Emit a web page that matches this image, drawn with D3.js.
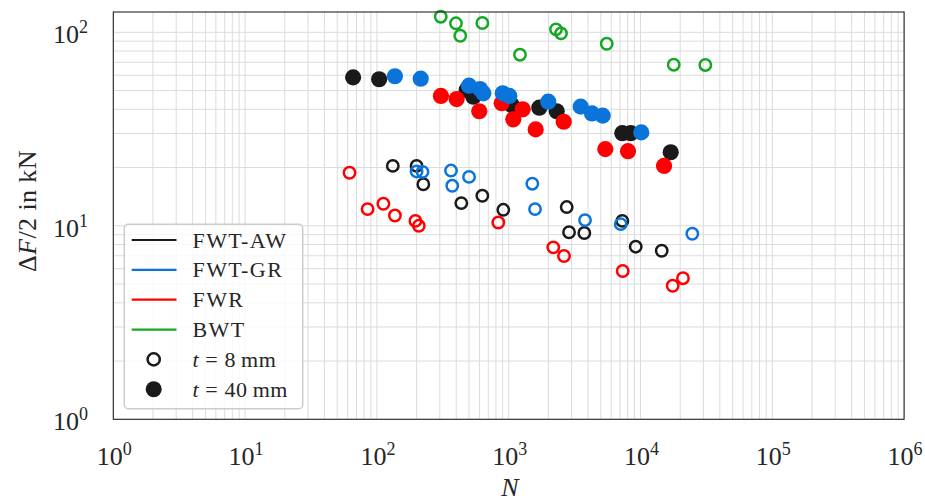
<!DOCTYPE html>
<html>
<head>
<meta charset="utf-8">
<script src="https://cdn.jsdelivr.net/npm/d3@7"></script>
<style>
  body { margin: 0; background: #fff; }
  text { font-family: "Liberation Serif", "DejaVu Serif", serif; fill: #262626; }
</style>
</head>
<body>
<svg id="chart" width="925" height="501"></svg>
<script>
// Series (weld detail) names and colours
const seriesNames  = ["FWT-AW", "FWT-GR", "FWR", "BWT"];
const seriesColors = ["#1a1a1a", "#0a74da", "#ff0000", "#14a823"];

// Axis ticks (decades)
const xTickExps = [0, 1, 2, 3, 4, 5, 6];
const yTickExps = [0, 1, 2];

// FWT-AW
const awThinN  = [132, 200, 225, 437, 631, 910, 2755, 2870, 3748, 7278, 9200, 14490];
const awThinF  = [20.4, 20.4, 16.4, 13.1, 14.3, 12.1, 12.5, 9.26, 9.18, 10.6, 7.80, 7.43];
const awThickN = [66, 104, 480, 539, 1054, 1707, 2313, 7278, 8430, 16950];
const awThickF = [58.5, 57.2, 50.3, 46.5, 42.1, 40.8, 39.1, 30.1, 30.1, 24.0];

// FWT-GR
const grThinN  = [200, 222, 365, 373, 500, 1511, 1584, 3794, 7077, 24720];
const grThinF  = [19.1, 19.0, 19.3, 16.1, 17.9, 16.5, 12.2, 10.7, 10.2, 9.1];
const grThickN = [137, 215, 500, 606, 642, 901, 1011, 1996, 3518, 4286, 5165, 10140];
const grThickF = [59.3, 57.6, 53.0, 50.9, 48.4, 48.4, 46.9, 43.8, 41.3, 38.1, 37.1, 30.4];

// FWR
const frThinN  = [62, 85, 112, 137, 196, 208, 834, 2179, 2628, 7330, 17550, 21000];
const frThinF  = [18.8, 12.2, 13.0, 11.3, 10.6, 10.0, 10.4, 7.74, 6.98, 5.84, 4.90, 5.36];
const frThickN = [306, 403, 598, 885, 1084, 1277, 1602, 2614, 5408, 8040, 15080];
const frThickF = [46.9, 45.2, 39.1, 43.0, 35.5, 40.0, 31.5, 34.5, 24.9, 24.3, 20.4];

// BWT
const bwThinN  = [305, 398, 429, 631, 1218, 2285, 2494, 5543, 17870, 31040];
const bwThinF  = [120.4, 111.3, 96.0, 111.7, 76.6, 103.6, 98.8, 87.3, 68.0, 67.8];

const svg = d3.select("#chart");
const plot = { left: 113.3, right: 904.1, top: 12, bottom: 419.3 };

const x = d3.scaleLog().domain([1, 1e6]).range([plot.left, plot.right]);
const y = d3.scaleLog().domain([1, Math.pow(10, 2.105)]).range([plot.bottom, plot.top]);

// Grid: minor and major lines for every decade
const gridG = svg.append("g").attr("stroke", "#dcdcdc").attr("stroke-width", 1);
const xGrid = [];
for (let e = 0; e < 6; e++) for (let m = 1; m <= 9; m++) xGrid.push(m * Math.pow(10, e));
xGrid.push(1e6);
const yGrid = [];
for (let e = 0; e < 3; e++) for (let m = 1; m <= 9; m++) {
  const v = m * Math.pow(10, e);
  if (v <= y.domain()[1]) yGrid.push(v);
}
gridG.selectAll("line.vx").data(xGrid).join("line")
  .attr("x1", d => x(d)).attr("x2", d => x(d))
  .attr("y1", plot.top).attr("y2", plot.bottom);
gridG.selectAll("line.hy").data(yGrid).join("line")
  .attr("x1", plot.left).attr("x2", plot.right)
  .attr("y1", d => y(d)).attr("y2", d => y(d));

// Data groups, drawn in layer order
const zip = (n, f) => n.map((v, i) => ({ n: v, f: f[i] }));
const groups = [
  { s: 0, filled: false, pts: zip(awThinN, awThinF) },
  { s: 2, filled: false, pts: zip(frThinN, frThinF) },
  { s: 1, filled: false, pts: zip(grThinN, grThinF) },
  { s: 3, filled: false, pts: zip(bwThinN, bwThinF) },
  { s: 0, filled: true,  pts: zip(awThickN, awThickF) },
  { s: 2, filled: true,  pts: zip(frThickN, frThickF) },
  { s: 1, filled: true,  pts: zip(grThickN, grThickF) }
];

const marks = svg.append("g");
groups.forEach(g => {
  const c = seriesColors[g.s];
  marks.append("g").selectAll("circle").data(g.pts).join("circle")
    .attr("cx", d => x(d.n)).attr("cy", d => y(d.f))
    .attr("r", g.filled ? 8.1 : 5.7)
    .attr("fill", g.filled ? c : "none")
    .attr("stroke", g.filled ? "none" : c)
    .attr("stroke-width", g.filled ? 0 : 2.5);
});

// Frame
svg.append("rect")
  .attr("x", plot.left).attr("y", plot.top)
  .attr("width", plot.right - plot.left).attr("height", plot.bottom - plot.top)
  .attr("fill", "none").attr("stroke", "#262626").attr("stroke-width", 1.1);

// Tick labels as powers of ten
function powerLabel(sel, exp) {
  sel.append("tspan").text("10");
  sel.append("tspan").attr("dy", -10).attr("font-size", 18).text(exp);
}
const xAxis = d3.axisBottom(x).tickValues(xTickExps.map(e => Math.pow(10, e))).tickSize(0).tickFormat("");
svg.append("g").attr("transform", `translate(0,${plot.bottom})`).call(xAxis)
  .call(g => g.select(".domain").remove());
xTickExps.forEach(e => {
  const t = svg.append("text")
    .attr("x", x(Math.pow(10, e)) + 1).attr("y", 465)
    .attr("text-anchor", "middle").attr("font-size", 26);
  powerLabel(t, e);
});
const yAxis = d3.axisLeft(y).tickValues(yTickExps.map(e => Math.pow(10, e))).tickSize(0).tickFormat("");
svg.append("g").attr("transform", `translate(${plot.left},0)`).call(yAxis)
  .call(g => g.select(".domain").remove());
yTickExps.forEach(e => {
  const t = svg.append("text")
    .attr("x", 88).attr("y", y(Math.pow(10, e)) + 11)
    .attr("text-anchor", "end").attr("font-size", 26);
  powerLabel(t, e);
});

// Axis titles
svg.append("text").attr("x", 510).attr("y", 496)
  .attr("text-anchor", "middle").attr("font-size", 26)
  .attr("font-style", "italic").text("N");

const yt = svg.append("text")
  .attr("transform", "translate(36,211) rotate(-90)")
  .attr("text-anchor", "middle").attr("font-size", 26).attr("letter-spacing", 0.4);
yt.append("tspan").text("\u0394");
yt.append("tspan").attr("font-style", "italic").text("F");
yt.append("tspan").text("/2 in kN");

// Legend
const leg = svg.append("g");
leg.append("rect")
  .attr("x", 124.3).attr("y", 224.3).attr("width", 178.4).attr("height", 184.4)
  .attr("rx", 4).attr("fill", "#fff").attr("fill-opacity", 0.8)
  .attr("stroke", "#cccccc").attr("stroke-width", 1.5);
const rowY = i => 240 + i * 29.85;
seriesNames.forEach((name, i) => {
  leg.append("line")
    .attr("x1", 131.7).attr("x2", 176.5).attr("y1", rowY(i)).attr("y2", rowY(i))
    .attr("stroke", seriesColors[i]).attr("stroke-width", 2.2);
  leg.append("text").attr("x", 192.5).attr("y", rowY(i) + 7.5)
    .attr("font-size", 22).attr("letter-spacing", 1.4).text(name);
});
const thickLabels = [
  { t: "8", filled: false },
  { t: "40", filled: true }
];
thickLabels.forEach((d, j) => {
  const i = 4 + j;
  leg.append("circle").attr("cx", 153.7).attr("cy", rowY(i))
    .attr("r", d.filled ? 8 : 6.1)
    .attr("fill", d.filled ? "#1a1a1a" : "none")
    .attr("stroke", d.filled ? "none" : "#1a1a1a").attr("stroke-width", 2.5);
  const tx = leg.append("text").attr("x", 192.5).attr("y", rowY(i) + 7.5)
    .attr("font-size", 22).attr("letter-spacing", 0.6);
  tx.append("tspan").attr("font-style", "italic").text("t");
  tx.append("tspan").text(" = " + d.t + "\u2009mm");
});
</script>
</body>
</html>
